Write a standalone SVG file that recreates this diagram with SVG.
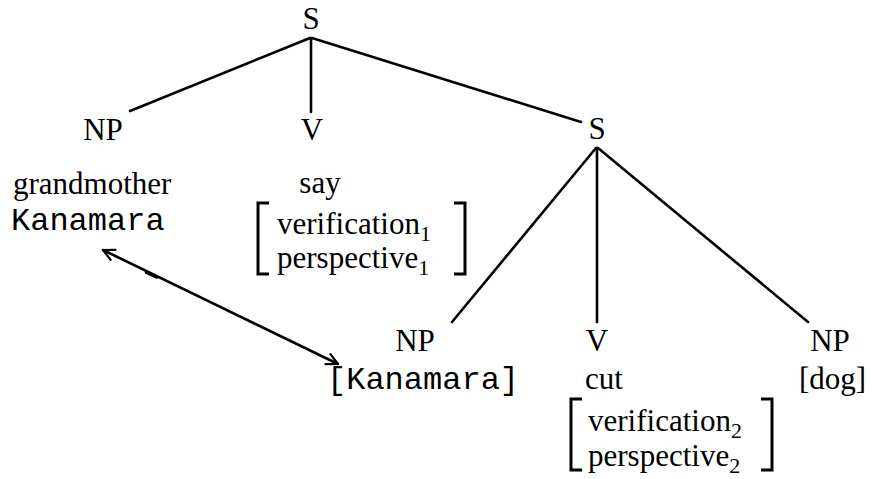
<svg xmlns="http://www.w3.org/2000/svg" width="872" height="479" viewBox="0 0 872 479">
  <style>
    .lbl { font-family: "Liberation Serif", "Times New Roman", serif; font-size: 31px; fill: #000; }
    .mono { font-family: "Liberation Mono", "Courier New", monospace; font-size: 32px; fill: #000; }
    .sub { font-size: 22px; }
    .edge { stroke: #000; stroke-width: 2.6; fill: none; stroke-linecap: round; }
    .brk { stroke: #000; stroke-width: 3; fill: none; }
  </style>
  <defs>
    <marker id="head" viewBox="0 0 14 14" refX="13" refY="7" markerWidth="14" markerHeight="14" markerUnits="userSpaceOnUse" orient="auto-start-reverse">
      <path d="M1,1 L13,7 L1,13" fill="none" stroke="#000" stroke-width="2.2"/>
    </marker>
  </defs>

  <!-- tree edges -->
  <g id="connectors">
    <line class="edge" x1="310" y1="38" x2="130" y2="111"/>
    <line class="edge" x1="311" y1="38" x2="311" y2="112"/>
    <line class="edge" x1="312" y1="38" x2="581" y2="122"/>
    <line class="edge" x1="596" y1="148" x2="452" y2="322"/>
    <line class="edge" x1="597" y1="148" x2="597" y2="322"/>
    <line class="edge" x1="598" y1="148" x2="808" y2="322"/>
    <!-- coreference link -->
    <line class="edge" x1="103" y1="250" x2="338" y2="364" marker-start="url(#head)" marker-end="url(#head)"/>
    <line class="edge" x1="146" y1="272.5" x2="157" y2="277.5"/>
  </g>

  <g id="s-root"><text class="lbl" x="311" y="29" text-anchor="middle">S</text></g>

  <g id="np-subject">
    <text class="lbl" x="103" y="140" text-anchor="middle">NP</text>
    <text class="lbl" x="13" y="194">grandmother</text>
    <text class="mono" x="11" y="230">Kanamara</text>
  </g>

  <g id="v-say">
    <text class="lbl" x="312" y="140" text-anchor="middle">V</text>
    <text class="lbl" x="320" y="193" text-anchor="middle">say</text>
    <path class="brk" d="M269,203 L258,203 L258,274 L269,274"/>
    <text class="lbl" x="277" y="234">verification<tspan class="sub" dy="7">1</tspan></text>
    <text class="lbl" x="277" y="268">perspective<tspan class="sub" dy="7">1</tspan></text>
    <path class="brk" d="M454,203 L465,203 L465,274 L454,274"/>
  </g>

  <g id="s-embedded"><text class="lbl" x="597" y="139" text-anchor="middle">S</text></g>

  <g id="np-kanamara">
    <text class="lbl" x="415" y="351" text-anchor="middle">NP</text>
    <text class="mono" x="327" y="389">[Kanamara]</text>
  </g>

  <g id="v-cut">
    <text class="lbl" x="597" y="351" text-anchor="middle">V</text>
    <text class="lbl" x="585" y="389">cut</text>
    <path class="brk" d="M582,399 L571,399 L571,470 L582,470"/>
    <text class="lbl" x="588" y="431">verification<tspan class="sub" dy="7">2</tspan></text>
    <text class="lbl" x="588" y="466">perspective<tspan class="sub" dy="7">2</tspan></text>
    <path class="brk" d="M761,399 L772,399 L772,470 L761,470"/>
  </g>

  <g id="np-dog">
    <text class="lbl" x="830" y="351" text-anchor="middle">NP</text>
    <text class="lbl" x="799" y="389">[dog]</text>
  </g>
</svg>
